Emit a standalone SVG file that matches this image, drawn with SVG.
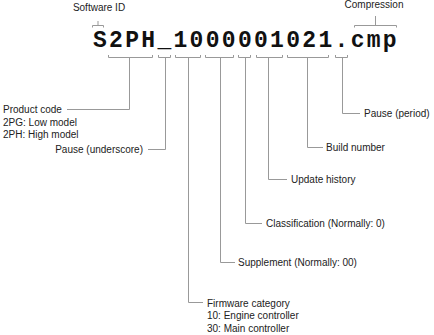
<svg xmlns="http://www.w3.org/2000/svg" width="434" height="335" viewBox="0 0 434 335">
<style>
.t{font-family:"Liberation Sans",Arial,sans-serif;font-size:10px;fill:#222}
.c{fill:none;stroke:#999;stroke-width:1}
.m{font-family:"Courier New","Liberation Mono",monospace;font-weight:bold;font-size:23px;letter-spacing:2.3px;fill:#111}
</style>
<rect width="434" height="335" fill="#fff"/>
<g id="filename"><text class="m" x="93" y="47">S2PH_1000001021.cmp</text></g>
<g id="connectors">
<path class="c" d="M92.5,27.5V25.5H103.5V27.5M98,25.5V21"/>
<path class="c" d="M354.5,27.5V25.5H396.5V27.5M375.5,25.5V16"/>
<path class="c" d="M108.5,55V57.5H152.5V55M129.5,57.5V109.5H67"/>
<path class="c" d="M158.5,55V57.5H170.5V55M165.5,57.5V149.5H148"/>
<path class="c" d="M175.5,55V57.5H200.5V55M188.5,57.5V302.5H203"/>
<path class="c" d="M205.5,55V57.5H233.5V55M220.5,57.5V262.5H235"/>
<path class="c" d="M238.5,55V57.5H250.5V55M245.5,57.5V223.5H262"/>
<path class="c" d="M256.5,55V57.5H282.5V55M268.5,57.5V179.5H287"/>
<path class="c" d="M287.5,55V57.5H328.5V55M307.5,57.5V147.5H323"/>
<path class="c" d="M335.5,55V57.5H347.5V55M342.5,57.5V113.5H360"/>
</g>
<g id="software-id"><text class="t" x="99" y="11" text-anchor="middle">Software ID</text></g>
<g id="compression"><text class="t" x="374" y="8" text-anchor="middle">Compression</text></g>
<g id="product-code"><text class="t" x="3" y="113">Product code</text><text class="t" x="3" y="125.5">2PG: Low model</text><text class="t" x="3" y="137.5">2PH: High model</text></g>
<g id="pause-underscore"><text class="t" x="143" y="153" text-anchor="end">Pause (underscore)</text></g>
<g id="firmware-category"><text class="t" x="207" y="306.5">Firmware category</text><text class="t" x="207" y="319">10: Engine controller</text><text class="t" x="207" y="331.5">30: Main controller</text></g>
<g id="supplement"><text class="t" x="238" y="266">Supplement (Normally: 00)</text></g>
<g id="classification"><text class="t" x="266" y="227">Classification (Normally: 0)</text></g>
<g id="update-history"><text class="t" x="291" y="183">Update history</text></g>
<g id="build-number"><text class="t" x="326" y="151">Build number</text></g>
<g id="pause-period"><text class="t" x="364" y="117">Pause (period)</text></g>
</svg>
